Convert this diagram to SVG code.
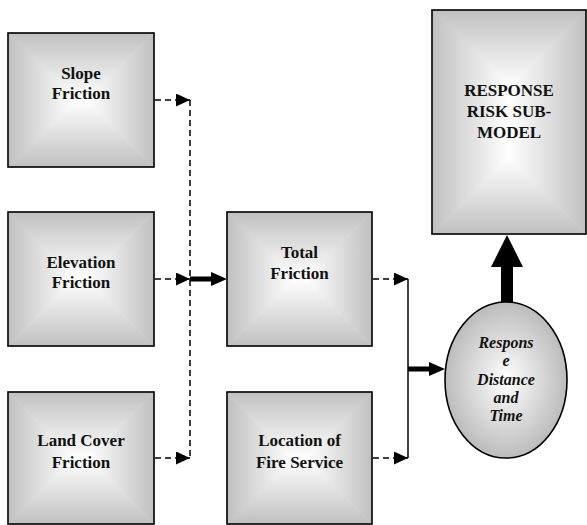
<svg xmlns="http://www.w3.org/2000/svg" width="587" height="525" viewBox="0 0 587 525">
<defs>
<linearGradient id="gT" x1="0" y1="0" x2="0" y2="1"><stop offset="0" stop-color="#c0c0c0"/><stop offset="1" stop-color="#ffffff"/></linearGradient>
<linearGradient id="gB" x1="0" y1="1" x2="0" y2="0"><stop offset="0" stop-color="#c0c0c0"/><stop offset="1" stop-color="#ffffff"/></linearGradient>
<linearGradient id="gL" x1="0" y1="0" x2="1" y2="0"><stop offset="0" stop-color="#c0c0c0"/><stop offset="1" stop-color="#ffffff"/></linearGradient>
<linearGradient id="gR" x1="1" y1="0" x2="0" y2="0"><stop offset="0" stop-color="#c0c0c0"/><stop offset="1" stop-color="#ffffff"/></linearGradient>
<radialGradient id="gE" cx="0.5" cy="0.5" r="0.5"><stop offset="0" stop-color="#ffffff"/><stop offset="1" stop-color="#bcbcbc"/></radialGradient>
<marker id="dh" markerUnits="userSpaceOnUse" markerWidth="14" markerHeight="13" refX="14" refY="6.5" orient="auto"><path d="M0,0 L14,6.5 L0,13 z" fill="#000"/></marker>
<style>
.t{fill:url(#gT)}.b{fill:url(#gB)}.l{fill:url(#gL)}.r{fill:url(#gR)}
.t,.b,.l,.r{stroke-width:0.6}
.t{stroke:url(#gT)}.b{stroke:url(#gB)}.l{stroke:url(#gL)}.r{stroke:url(#gR)}
.frame{fill:none;stroke:#000;stroke-width:1.6}
.lbl{font-weight:bold;font-size:17px;fill:#111;text-anchor:middle}
.it{font-style:italic;font-size:16px}
.dash{fill:none;stroke:#000;stroke-width:1.5;stroke-dasharray:6,4}
.solid{fill:none;stroke:#000;stroke-width:1.5}
</style>
</defs>

<g id="slope">
<polygon class="t" points="8,33 154,33 87,100 75,100"/>
<polygon class="b" points="8,167 154,167 87,100 75,100"/>
<polygon class="l" points="8,33 75,100 8,167"/>
<polygon class="r" points="154,33 87,100 154,167"/>
<rect class="frame" x="8" y="33" width="146" height="134"/>
<text class="lbl" font-family="'Liberation Serif', 'Times New Roman', 'DejaVu Serif', serif" x="81" y="79">Slope</text>
<text class="lbl" font-family="'Liberation Serif', 'Times New Roman', 'DejaVu Serif', serif" x="81" y="99">Friction</text>
</g>

<g id="elevation">
<polygon class="t" points="8,212 154,212 87,279 75,279"/>
<polygon class="b" points="8,346 154,346 87,279 75,279"/>
<polygon class="l" points="8,212 75,279 8,346"/>
<polygon class="r" points="154,212 87,279 154,346"/>
<rect class="frame" x="8" y="212" width="146" height="134"/>
<text class="lbl" font-family="'Liberation Serif', 'Times New Roman', 'DejaVu Serif', serif" x="81" y="268">Elevation</text>
<text class="lbl" font-family="'Liberation Serif', 'Times New Roman', 'DejaVu Serif', serif" x="81" y="288">Friction</text>
</g>

<g id="landcover">
<polygon class="t" points="8,392 154,392 88,458 74,458"/>
<polygon class="b" points="8,524 154,524 88,458 74,458"/>
<polygon class="l" points="8,392 74,458 8,524"/>
<polygon class="r" points="154,392 88,458 154,524"/>
<rect class="frame" x="8" y="392" width="146" height="132"/>
<text class="lbl" font-family="'Liberation Serif', 'Times New Roman', 'DejaVu Serif', serif" x="81" y="446">Land Cover</text>
<text class="lbl" font-family="'Liberation Serif', 'Times New Roman', 'DejaVu Serif', serif" x="81" y="468">Friction</text>
</g>

<g id="total">
<polygon class="t" points="227,212 372,212 305,279 294,279"/>
<polygon class="b" points="227,346 372,346 305,279 294,279"/>
<polygon class="l" points="227,212 294,279 227,346"/>
<polygon class="r" points="372,212 305,279 372,346"/>
<rect class="frame" x="227" y="212" width="145" height="134"/>
<text class="lbl" font-family="'Liberation Serif', 'Times New Roman', 'DejaVu Serif', serif" x="299.5" y="258">Total</text>
<text class="lbl" font-family="'Liberation Serif', 'Times New Roman', 'DejaVu Serif', serif" x="299.5" y="279">Friction</text>
</g>

<g id="location">
<polygon class="t" points="227,392 372,392 306,458 293,458"/>
<polygon class="b" points="227,524 372,524 306,458 293,458"/>
<polygon class="l" points="227,392 293,458 227,524"/>
<polygon class="r" points="372,392 306,458 372,524"/>
<rect class="frame" x="227" y="392" width="145" height="132"/>
<text class="lbl" font-family="'Liberation Serif', 'Times New Roman', 'DejaVu Serif', serif" x="299.5" y="446">Location of</text>
<text class="lbl" font-family="'Liberation Serif', 'Times New Roman', 'DejaVu Serif', serif" x="299.5" y="468">Fire Service</text>
</g>

<g id="response">
<polygon class="t" points="432,10 586,10 509,87"/>
<polygon class="b" points="432,234 586,234 509,157"/>
<polygon class="l" points="432,10 509,87 509,157 432,234"/>
<polygon class="r" points="586,10 509,87 509,157 586,234"/>
<rect class="frame" x="432" y="10" width="154" height="224"/>
<text class="lbl" font-family="'Liberation Serif', 'Times New Roman', 'DejaVu Serif', serif" x="509" y="96">RESPONSE</text>
<text class="lbl" font-family="'Liberation Serif', 'Times New Roman', 'DejaVu Serif', serif" x="509" y="117">RISK SUB-</text>
<text class="lbl" font-family="'Liberation Serif', 'Times New Roman', 'DejaVu Serif', serif" x="509" y="138">MODEL</text>
</g>

<g id="distance">
<ellipse cx="506" cy="380" rx="61" ry="78" fill="url(#gE)" stroke="#000" stroke-width="1.6"/>
<text class="lbl it" font-family="'Liberation Serif', 'Times New Roman', 'DejaVu Serif', serif" x="506" y="348">Respons</text>
<text class="lbl it" font-family="'Liberation Serif', 'Times New Roman', 'DejaVu Serif', serif" x="506" y="366">e</text>
<text class="lbl it" font-family="'Liberation Serif', 'Times New Roman', 'DejaVu Serif', serif" x="506" y="385">Distance</text>
<text class="lbl it" font-family="'Liberation Serif', 'Times New Roman', 'DejaVu Serif', serif" x="506" y="403">and</text>
<text class="lbl it" font-family="'Liberation Serif', 'Times New Roman', 'DejaVu Serif', serif" x="506" y="421">Time</text>
</g>

<g id="connectors">
<line class="dash" x1="155" y1="100" x2="190" y2="100" marker-end="url(#dh)"/>
<line class="dash" x1="155" y1="279" x2="190" y2="279" marker-end="url(#dh)"/>
<line class="dash" x1="155" y1="458" x2="190" y2="458" marker-end="url(#dh)"/>
<line class="dash" x1="190" y1="100" x2="190" y2="458"/>
<polygon points="190,276.5 211,276.5 211,272 227,279 211,286 211,281.5 190,281.5" fill="#000"/>
<line class="dash" x1="373" y1="279" x2="408" y2="279" marker-end="url(#dh)"/>
<line class="dash" x1="373" y1="458" x2="408" y2="458" marker-end="url(#dh)"/>
<line class="solid" x1="408" y1="279" x2="408" y2="458"/>
<polygon points="408,366.5 429,366.5 429,362 445,369 429,376 429,371.5 408,371.5" fill="#000"/>
<polygon points="501,302 501,267 491,267 507,235 523,267 513,267 513,302" fill="#000"/>
</g>
</svg>
